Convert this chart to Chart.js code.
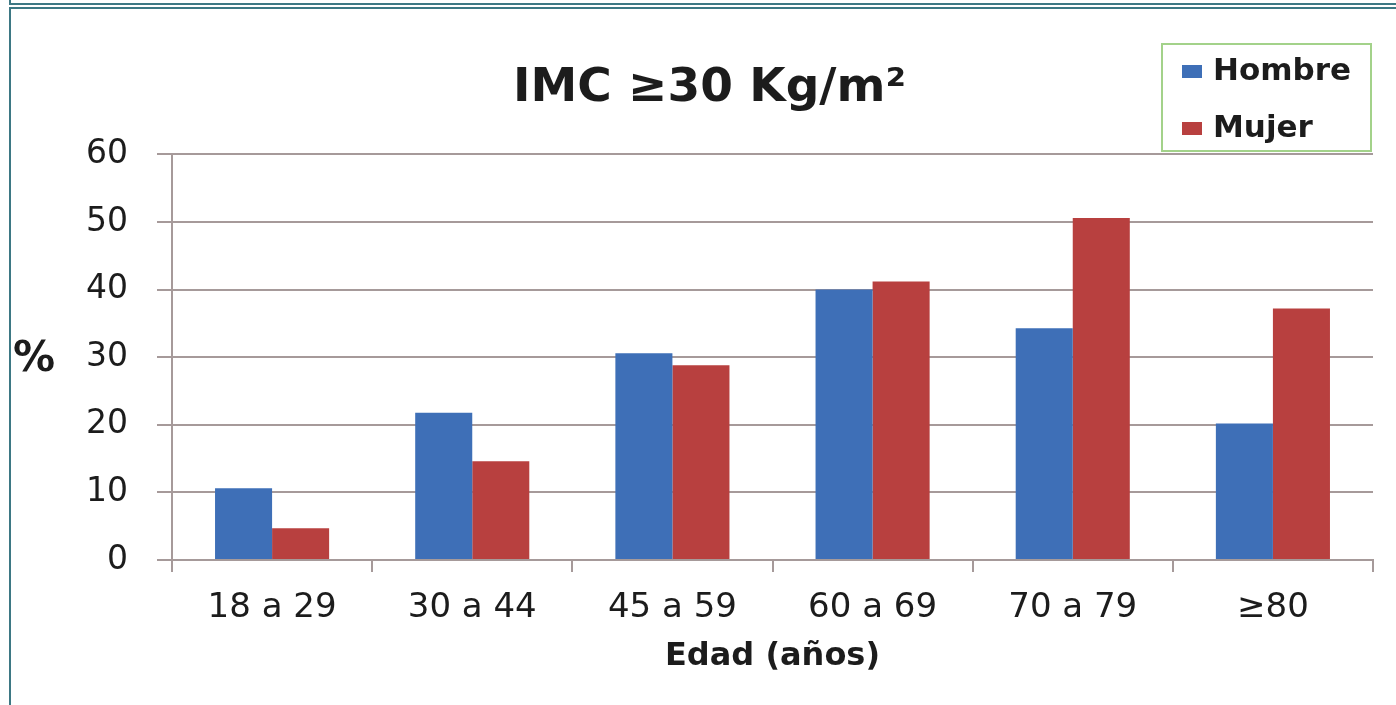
<!DOCTYPE html>
<html>
<head>
<meta charset="utf-8">
<script src="https://cdn.jsdelivr.net/npm/chart.js@4/dist/chart.umd.min.js"></script>
<style>
  html, body { margin: 0; padding: 0; background: #fff; }
  body { width: 1396px; height: 705px; position: relative; overflow: hidden; }
  #imcChart { position: absolute; left: 0; top: 0; }
  .frame-top { position: absolute; left: 9px; top: 0; width: 1400px; height: 3px; border-left: 2px solid #3d7884; border-bottom: 2px solid #3d7884; }
  .frame { position: absolute; left: 9px; top: 7px; width: 1400px; height: 720px; border-left: 2px solid #3d7884; border-top: 2px solid #3d7884; }
</style>
</head>
<body>
<canvas id="imcChart" width="1396" height="705"></canvas>
<div class="frame-top"></div>
<div class="frame"></div>
<script>
// Datos
const categories = ["18 a 29", "30 a 44", "45 a 59", "60 a 69", "70 a 79", "≥80"];
const hombre = [10.6, 21.8, 30.6, 40.0, 34.3, 20.2];
const mujer = [4.7, 14.6, 28.8, 41.2, 50.6, 37.2];
const yTicks = [0, 10, 20, 30, 40, 50, 60];

const gridColor = "#a69a9a";
const textColor = "#1c1c1c";

// Leyenda con caja verde y el "%" del eje Y
const extrasPlugin = {
  id: "extras",
  afterDraw(chart) {
    const ctx = chart.ctx;
    ctx.save();
    // caja de leyenda
    ctx.strokeStyle = "#a3d28a";
    ctx.lineWidth = 2;
    ctx.strokeRect(1162, 44, 209, 107);
    ctx.font = "bold 31px 'DejaVu Sans'";
    ctx.fillStyle = textColor;
    ctx.textBaseline = "alphabetic";
    ctx.textAlign = "left";
    chart.data.datasets.forEach(function (ds, i) {
      const y = 80 + i * 57;
      ctx.fillStyle = ds.backgroundColor;
      ctx.fillRect(1182, y - 15, 20, 13);
      ctx.fillStyle = textColor;
      ctx.fillText(ds.label, 1213, y);
    });
    // "%" horizontal
    ctx.font = "bold 42px 'DejaVu Sans'";
    ctx.textAlign = "center";
    ctx.textBaseline = "middle";
    ctx.fillText("%", 34, 360);
    ctx.restore();
  },
};

const imcCtx = document.getElementById("imcChart").getContext("2d");
new Chart(imcCtx, {
  type: "bar",
  data: {
    labels: categories,
    datasets: [
      {
        label: "Hombre",
        data: hombre,
        backgroundColor: "#3e6fb7",
        borderWidth: 0,
      },
      {
        label: "Mujer",
        data: mujer,
        backgroundColor: "#b8403f",
        borderWidth: 0,
      },
    ],
  },
  options: {
    responsive: false,
    animation: false,
    layout: { padding: { left: 46, right: 23, top: 0, bottom: 0 } },
    categoryPercentage: 0.57,
    barPercentage: 1.0,
    plugins: {
      legend: { display: false },
      tooltip: { enabled: false },
      title: {
        display: true,
        text: "IMC ≥30 Kg/m²",
        color: textColor,
        font: { family: "'DejaVu Sans'", size: 47, weight: "bold" },
        padding: { top: 61, bottom: 37 },
      },
    },
    scales: {
      x: {
        grid: {
          display: true,
          drawOnChartArea: false,
          drawTicks: true,
          tickLength: 12,
          color: gridColor,
          lineWidth: 2,
        },
        border: { display: true, color: gridColor, width: 2 },
        ticks: {
          color: textColor,
          font: { family: "'DejaVu Sans'", size: 34 },
          padding: 16,
          maxRotation: 0,
        },
        title: {
          display: true,
          text: "Edad (años)",
          color: textColor,
          font: { family: "'DejaVu Sans'", size: 32, weight: "bold" },
          padding: { top: 0, bottom: 29 },
        },
        afterFit: function (scale) {
          scale.height = 145;
        },
      },
      y: {
        min: 0,
        max: 60,
        afterBuildTicks: function (scale) {
          scale.ticks = yTicks.map(function (v) { return { value: v }; });
        },
        grid: {
          color: gridColor,
          lineWidth: 2,
          drawTicks: true,
          tickLength: 15,
        },
        border: { display: true, color: gridColor, width: 2 },
        ticks: {
          color: textColor,
          font: { family: "'DejaVu Sans'", size: 33 },
          padding: 29,
        },
        afterFit: function (scale) {
          scale.width = 126;
        },
      },
    },
  },
  plugins: [extrasPlugin],
});
</script>
</body>
</html>
